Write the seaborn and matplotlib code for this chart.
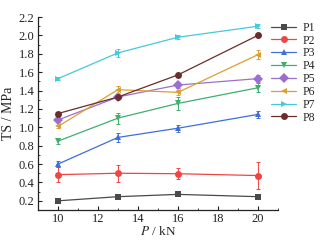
import matplotlib
matplotlib.use("Agg")
import matplotlib.pyplot as plt
import numpy as np, pandas as pd
import seaborn as sns
from matplotlib.ticker import MultipleLocator

loads = [10, 13, 16, 20]
series = ["P1", "P2", "P3", "P4", "P5", "P6", "P7", "P8"]
ts = {
    "P1": [0.20, 0.245, 0.27, 0.245],
    "P2": [0.485, 0.50, 0.495, 0.475],
    "P3": [0.60, 0.89, 0.99, 1.14],
    "P4": [0.85, 1.10, 1.26, 1.43],
    "P5": [1.08, 1.33, 1.46, 1.53],
    "P6": [1.01, 1.41, 1.38, 1.79],
    "P7": [1.53, 1.81, 1.98, 2.10],
    "P8": [1.15, 1.33, 1.57, 2.00],
}
err = {
    "P1": [0.01, 0.01, 0.01, 0.01],
    "P2": [0.08, 0.09, 0.06, 0.15],
    "P3": [0.03, 0.05, 0.04, 0.04],
    "P4": [0.03, 0.06, 0.07, 0.05],
    "P5": [0.02, 0.02, 0.03, 0.04],
    "P6": [0.02, 0.04, 0.03, 0.05],
    "P7": [0.02, 0.04, 0.02, 0.02],
    "P8": [0.02, 0.02, 0.02, 0.02],
}
colors = ["#4a4a4a", "#f04545", "#3d6fd6", "#3fae6e", "#9b6fd0", "#dba032", "#45c9db", "#6b2c2c"]
markers = ["s", "o", "^", "v", "D", "<", ">", "o"]

df = pd.DataFrame([
    {"P": x, "TS": v, "series": s}
    for s in series for x, v in zip(loads, ts[s])
])

sns.set_style("ticks")
plt.rcParams["font.family"] = ["Liberation Serif", "DejaVu Serif"]
plt.rcParams["mathtext.fontset"] = "stix"
plt.rcParams["font.size"] = 9

fig = plt.figure(figsize=(3.23, 2.4), dpi=100)
ax = fig.add_axes([0.118, 0.125, 0.742, 0.804])

palette = dict(zip(series, colors))
sns.lineplot(data=df, x="P", y="TS", hue="series", style="series",
             markers=dict(zip(series, markers)), dashes=False, palette=palette,
             linewidth=0.9, markersize=5, markeredgewidth=0, ax=ax)
for s in series:
    ax.errorbar(loads, ts[s], yerr=err[s], fmt="none", ecolor=palette[s],
                elinewidth=0.7, capsize=1.5, capthick=0.7)

ax.set_xlim(9, 21)
ax.set_ylim(0.1, 2.2)
ax.set_xticks([10, 12, 14, 16, 18, 20])
ax.set_yticks(np.round(np.arange(0.2, 2.21, 0.2), 1))
ax.set_yticklabels([f"{v:.1f}" for v in np.arange(0.2, 2.21, 0.2)])
ax.xaxis.set_minor_locator(MultipleLocator(1))
ax.yaxis.set_minor_locator(MultipleLocator(0.1))
ax.tick_params(which="major", direction="in", length=3, width=0.8, labelsize=9, pad=2.5,
               colors="#222222")
ax.tick_params(which="minor", direction="in", length=1.5, width=0.6, colors="#222222")
for sp in ["left", "bottom"]:
    ax.spines[sp].set_linewidth(0.9)
    ax.spines[sp].set_color("#222222")
sns.despine(ax=ax)

ax.set_xlabel("$\\it{P}$ / kN", fontsize=9.5, labelpad=0)
ax.set_ylabel("TS / MPa", fontsize=10, labelpad=3)

ax.legend(loc="upper left", bbox_to_anchor=(0.95, 1.0), frameon=False,
          fontsize=8.5, handlelength=2.2, handletextpad=0.5, labelspacing=0.07,
          borderaxespad=0.0, markerscale=1.0)

fig.savefig("out.png", dpi=100)
